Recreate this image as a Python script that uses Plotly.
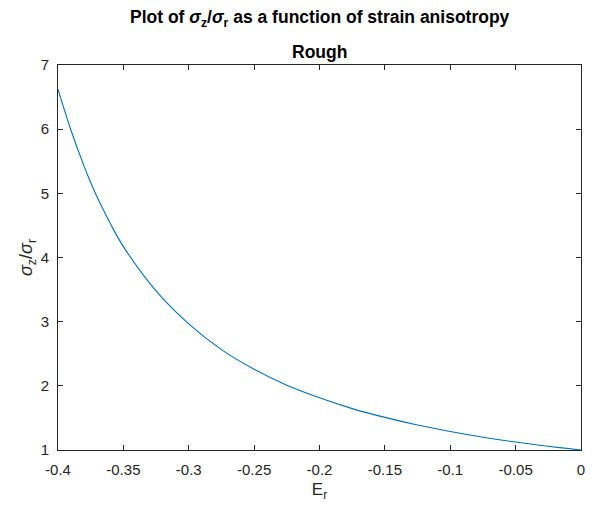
import plotly.graph_objects as go

# Strain anisotropy E_r and stress ratio sigma_z/sigma_r
E_r = [-0.4, -0.39, -0.38, -0.375, -0.37, -0.36, -0.35, -0.325, -0.3, -0.275, -0.25,
       -0.225, -0.2, -0.175, -0.15, -0.125, -0.1, -0.075, -0.05, -0.025, 0.0]
ratio = [6.62, 5.98, 5.42, 5.17, 4.94, 4.53, 4.17, 3.48, 2.965, 2.565, 2.259,
         2.009, 1.813, 1.645, 1.508, 1.389, 1.288, 1.20, 1.124, 1.058, 1.0]

x_ticks = [-0.4, -0.35, -0.3, -0.25, -0.2, -0.15, -0.1, -0.05, 0]
x_tick_labels = ["-0.4", "-0.35", "-0.3", "-0.25", "-0.2", "-0.15", "-0.1", "-0.05", "0"]
y_ticks = [1, 2, 3, 4, 5, 6, 7]

title_line1 = "<b>Plot of <i>σ</i><sub>z</sub>/<i>σ</i><sub>r</sub> as a function of strain anisotropy</b>"
title_line2 = "<b>Rough</b>"

FONT = "Liberation Sans, Arial, Helvetica, sans-serif"
AX = "#262626"

fig = go.Figure()
fig.add_trace(go.Scatter(
    x=E_r, y=ratio, mode="lines",
    line=dict(color="#0072BD", width=1.1, shape="spline", smoothing=1.0),
    showlegend=False, hoverinfo="x+y",
))

axis_common = dict(
    showline=True, linecolor=AX, linewidth=1, mirror="ticks",
    ticks="inside", ticklen=5, tickcolor=AX, tickwidth=1,
    showgrid=False, zeroline=False,
    tickfont=dict(family=FONT, size=15, color=AX),
)

fig.update_layout(
    width=599, height=507,
    margin=dict(l=58, r=18, t=65, b=57),
    paper_bgcolor="white", plot_bgcolor="white",
    font=dict(family=FONT, color=AX),
    xaxis=dict(range=[-0.4, 0], tickvals=x_ticks, ticktext=x_tick_labels,
               ticklabelstandoff=6,
               title=dict(text="E<sub>r</sub>", font=dict(family=FONT, size=17, color=AX), standoff=6),
               **axis_common),
    yaxis=dict(range=[1, 7], tickvals=y_ticks, ticklabelstandoff=5,
               title=dict(text="<i>σ</i><sub>z</sub>/<i>σ</i><sub>r</sub>", font=dict(family=FONT, size=18, color=AX), standoff=3),
               **axis_common),
    annotations=[
        dict(text=title_line1, xref="paper", yref="paper", x=0.5, y=1.1195,
             xanchor="center", yanchor="middle", showarrow=False,
             font=dict(family=FONT, size=17.5, color="black")),
        dict(text=title_line2, xref="paper", yref="paper", x=0.5, y=1.034,
             xanchor="center", yanchor="middle", showarrow=False,
             font=dict(family=FONT, size=17.5, color="black")),
    ],
)

fig.write_html("out.html")
